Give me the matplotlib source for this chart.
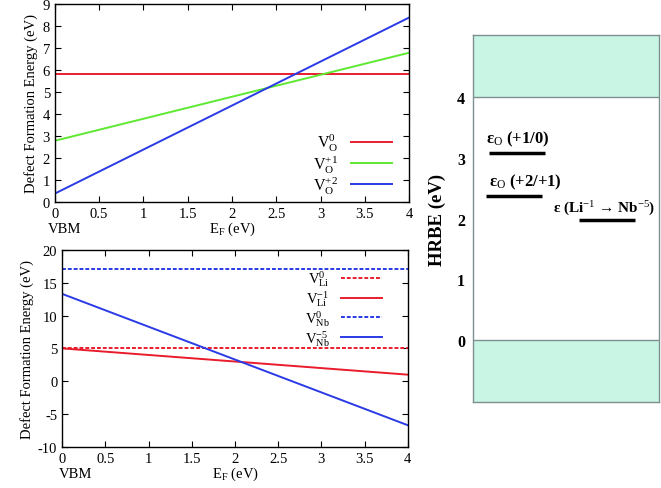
import numpy as np
import matplotlib
matplotlib.use('Agg')
import matplotlib.pyplot as plt

plt.rcParams['font.family'] = ['Liberation Serif', 'DejaVu Serif']
plt.rcParams['mathtext.fontset'] = 'custom'
plt.rcParams['mathtext.rm'] = 'Liberation Serif'
plt.rcParams['mathtext.it'] = 'Liberation Serif:italic'
plt.rcParams['mathtext.bf'] = 'Liberation Serif:bold'
plt.rcParams['axes.unicode_minus'] = False

## data
ef = np.array([0.0, 4.0])

# oxygen vacancies: E(0) and charge (slope)
vo_labels = [r'V$_\mathrm{O}^{0}$', r'V$_\mathrm{O}^{+1}$', r'V$_\mathrm{O}^{+2}$']
vo_e0 = [5.82, 2.78, 0.38]
vo_q = [0, 1, 2]

# cation vacancies
vc_labels = [r'V$_\mathrm{Li}^{0}$', r'V$_\mathrm{Li}^{-1}$', r'V$_\mathrm{Nb}^{0}$', r'V$_\mathrm{Nb}^{-5}$']
vc_e0 = [5.0, 5.0, 17.1, 13.3]
vc_q = [0, -1, 0, -5]

# transition levels (HRBE panel)
lev_names = [r'ε$_\mathrm{O}$ (+1/0)', r'ε$_\mathrm{O}$ (+2/+1)', r'ε (Li$^{-1}$ → Nb$^{-5}$)']
lev_vals = [3.08, 2.37, 1.98]
lev_x = [(0.086, 0.387), (0.07, 0.37), (0.57, 0.87)]
gap = 4.0

red = '#ea1c2c'
green = '#5ee832'
blue = '#2a3ae6'

fig = plt.figure(figsize=(6.61, 4.89), dpi=100)

def style(ax):
    ax.tick_params(axis='both', direction='in', top=True, right=True,
                   length=4, width=0.8, labelsize=10.5)
    for s in ax.spines.values():
        s.set_linewidth(1.0)

## top panel
ax1 = fig.add_axes([0.083, 0.585, 0.536, 0.405])
for lab, e0, q, c in zip(vo_labels, vo_e0, vo_q, [red, green, blue]):
    ax1.plot(ef, e0 + q*ef, color=c, lw=1.4, label=lab)
ax1.set_xlim(0, 4)
ax1.set_ylim(0, 9)
ax1.set_xticks(np.arange(0, 4.01, 0.5))
ax1.set_xticklabels(['0', '0.5', '1', '1.5', '2', '2.5', '3', '3.5', '4'])
ax1.set_yticks(range(10))
style(ax1)
ax1.set_ylabel('Defect Formation Energy (eV)', fontsize=10.5, labelpad=3)
ax1.set_xlabel(r'E$_\mathrm{F}$ (eV)', fontsize=10.5, labelpad=0)
ax1.text(-0.02, -0.1, 'VBM', transform=ax1.transAxes, fontsize=10.5, va='top')
ax1.legend(loc='lower right', bbox_to_anchor=(0.952, 0.03), frameon=False,
           markerfirst=False, fontsize=11.5, handlelength=2.6, labelspacing=0.0,
           borderaxespad=0, borderpad=0, handletextpad=0.8)

## bottom panel
ax2 = fig.add_axes([0.094, 0.084, 0.523, 0.403])
styles = [(red, (0, (2, 1))), (red, '-'), (blue, (0, (2, 1))), (blue, '-')]
for lab, e0, q, (c, ls) in zip(vc_labels, vc_e0, vc_q, styles):
    ax2.plot(ef, e0 + q*ef, color=c, ls=ls, lw=1.4, label=lab)
ax2.set_xlim(0, 4)
ax2.set_ylim(-10, 20)
ax2.set_xticks(np.arange(0, 4.01, 0.5))
ax2.set_xticklabels(['0', '0.5', '1', '1.5', '2', '2.5', '3', '3.5', '4'])
ax2.set_yticks(range(-10, 21, 5))
style(ax2)
ax2.set_ylabel('Defect Formation Energy (eV)', fontsize=10.5, labelpad=3)
ax2.set_xlabel(r'E$_\mathrm{F}$ (eV)', fontsize=10.5, labelpad=0)
ax2.text(-0.01, -0.1, 'VBM', transform=ax2.transAxes, fontsize=10.5, va='top')
ax2.legend(loc='upper right', bbox_to_anchor=(0.925, 0.905), frameon=False,
           markerfirst=False, fontsize=10.5, handlelength=2.8, labelspacing=0.0,
           borderaxespad=0, borderpad=0, handletextpad=0.8)

## right panel: HRBE
ax3 = fig.add_axes([0.716, 0.176, 0.281, 0.750])
ax3.set_xlim(0, 1)
ax3.set_ylim(-1.02, 5.02)
ax3.axhspan(-1.02, 0, color='#c9f5e4', lw=0)
ax3.axhspan(gap, 5.02, color='#c9f5e4', lw=0)
ax3.axhline(0, color='#7f8f8f', lw=1.0)
ax3.axhline(gap, color='#7f8f8f', lw=1.0)
for s in ax3.spines.values():
    s.set_color('#7f8f8f')
    s.set_linewidth(1.0)
ax3.set_xticks([])
ax3.set_yticks(range(5))
ax3.tick_params(axis='y', length=0, pad=6, labelsize=11.5)
for t in ax3.get_yticklabels():
    t.set_fontweight('bold')
ax3.set_ylabel('HRBE (eV)', fontsize=13.5, fontweight='bold', labelpad=8)

for name, v, (x0, x1) in zip(lev_names, lev_vals, lev_x):
    ax3.plot([x0, x1], [v, v], color='black', lw=2.5, solid_capstyle='butt')
ax3.text(0.07, 3.17, lev_names[0], fontsize=12, fontweight='bold', va='bottom')
ax3.text(0.085, 2.46, lev_names[1], fontsize=12, fontweight='bold', va='bottom')
ax3.text(0.43, 2.02, lev_names[2], fontsize=11, fontweight='bold', va='bottom')

fig.savefig('out.png', dpi=100)
